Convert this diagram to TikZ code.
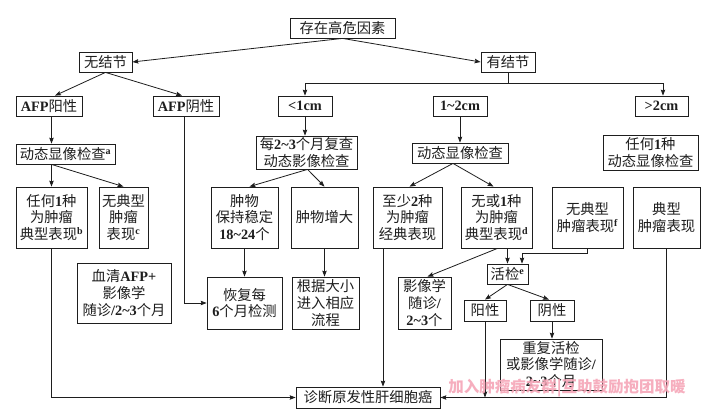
\documentclass[tikz,border=0pt]{standalone}
\usepackage{fontspec}
\setmainfont{Liberation Serif}
\newfontfamily\cjk{Noto Sans CJK SC}
\newcommand\lat[1]{{\rmfamily\bfseries #1}}
\usetikzlibrary{arrows.meta}
\definecolor{wmpink}{RGB}{246,166,184}
\definecolor{ink}{RGB}{30,30,30}
\begin{document}
\begin{tikzpicture}[x=1pt,y=-1pt,line width=0.8pt,draw=ink,
  bx/.style={draw=ink, line width=0.8pt, inner sep=0pt, align=center, text=ink,
    font=\cjk\fontsize{14.3}{16.8}\selectfont},
  arr/.style={-{Stealth[length=6pt,width=4.5pt,inset=1pt]}}]
\useasboundingbox[fill=white] (0,0) rectangle (712,415);
% nodes
\node[bx, minimum width=105pt, minimum height=20pt] (top) at (342.5,28) {存在高危因素};
\node[bx, minimum width=53pt, minimum height=20pt] (nonod) at (105.5,62) {无结节};
\node[bx, minimum width=54pt, minimum height=20pt] (hasnod) at (508,62) {有结节};
\node[bx, minimum width=66pt, minimum height=20pt] (afpp) at (49,106) {\lat{AFP}阳性};
\node[bx, minimum width=66pt, minimum height=20pt] (afpn) at (186,106) {\lat{AFP}阴性};
\node[bx, minimum width=54pt, minimum height=20pt] (lt1) at (305,106) {\lat{<1cm}};
\node[bx, minimum width=54pt, minimum height=20pt] (mid) at (460,106) {\lat{1\textasciitilde 2cm}};
\node[bx, minimum width=53pt, minimum height=20pt] (gt2) at (661.5,106) {\lat{>2cm}};
\node[bx, minimum width=99pt, minimum height=20pt] (dyn1) at (65.5,154) {动态显像检查\textsuperscript{\lat{a}}};
\node[bx, minimum width=71pt, minimum height=61pt] (typ1) at (51.5,217.5) {任何\lat{1}种\\为肿瘤\\典型表现\textsuperscript{\lat{b}}};
\node[bx, minimum width=49pt, minimum height=61pt] (atyp1) at (123.5,217.5) {无典型\\肿瘤\\表现\textsuperscript{\lat{c}}};
\node[bx, minimum width=94pt, minimum height=60pt] (serum) at (124,293) {血清\lat{AFP+}\\影像学\\随诊\lat{/2\textasciitilde 3}个月};
\node[bx, minimum width=101pt, minimum height=33pt] (rec) at (306.5,152.5) {每\lat{2\textasciitilde 3}个月复查\\动态影像检查};
\node[bx, minimum width=67pt, minimum height=61pt] (stable) at (244.5,217.5) {肿物\\保持稳定\\\lat{18\textasciitilde 24}个};
\node[bx, minimum width=67pt, minimum height=61pt] (grow) at (324.5,217.5) {肿物增大};
\node[bx, minimum width=75pt, minimum height=52pt] (resume) at (244.5,303) {恢复每\\\lat{6}个月检测};
\node[bx, minimum width=67pt, minimum height=52pt] (bysize) at (325.5,303) {根据大小\\进入相应\\流程};
\node[bx, minimum width=96pt, minimum height=20pt] (dyn2) at (460,153) {动态显像检查};
\node[bx, minimum width=69pt, minimum height=61pt] (two) at (407.5,217.5) {至少\lat{2}种\\为肿瘤\\经典表现};
\node[bx, minimum width=71pt, minimum height=61pt] (zero) at (496.5,217.5) {无或\lat{1}种\\为肿瘤\\典型表现\textsuperscript{\lat{d}}};
\node[bx, minimum width=71pt, minimum height=61pt] (atypf) at (587.5,217.5) {无典型\\肿瘤表现\textsuperscript{\lat{f}}};
\node[bx, minimum width=67pt, minimum height=61pt] (typ2) at (666.5,217.5) {典型\\肿瘤表现};
\node[bx, minimum width=95pt, minimum height=35pt] (any) at (650.5,152.5) {任何\lat{1}种\\动态显像检查};
\node[bx, minimum width=41pt, minimum height=20pt] (biopsy) at (507.5,274) {活检\textsuperscript{\lat{e}}};
\node[bx, minimum width=53pt, minimum height=52pt] (img) at (424.5,303) {影像学\\随诊\lat{/}\\\lat{2\textasciitilde 3}个};
\node[bx, minimum width=42pt, minimum height=21pt] (pos) at (485,310.5) {阳性};
\node[bx, minimum width=44pt, minimum height=21pt] (neg) at (552,310.5) {阴性};
\node[bx, minimum width=102pt, minimum height=51pt] (repeat) at (551,364.5) {重复活检\\或影像学随诊\lat{/}\\\lat{2\textasciitilde 3}个月};
\node[bx, minimum width=144pt, minimum height=21pt] (diag) at (368,397.5) {诊断原发性肝细胞癌};
% connectors
\draw[arr] (top.south) -- (nonod.east);
\draw[arr] (top.south) -- (hasnod.west);
\draw[arr] (nonod.south) -- ([xshift=6pt]afpp.north);
\draw[arr] (nonod.south) -- ([xshift=-4pt]afpn.north);
\coordinate (br) at (508,83);
\draw (hasnod.south) -- (br);
\draw[arr] (br) -| (lt1.north);
\draw[arr] (br) -| ([xshift=1.5pt]gt2.north);
\draw[arr] (afpp.south -| typ1) -- (dyn1.north -| typ1);
\draw[arr] (dyn1.south -| typ1) -- (typ1.north);
\draw[arr] (dyn1.south -| typ1) -- (atyp1.north);
\draw[arr] (typ1.south) |- (diag.west);
\coordinate (afpnb) at ([xshift=-2pt]afpn.south);
\draw[arr] (afpnb) |- (resume.west);
\draw[arr] (lt1.south) -- (lt1.south |- rec.north);
\draw[arr] ([xshift=1pt]rec.south) -- ([xshift=5pt]stable.north);
\draw[arr] ([xshift=1pt]rec.south) -- (grow.north);
\draw[arr] (stable.south) -- (resume.north);
\draw[arr] (grow.south) -- (grow.south |- bysize.north);
\draw[arr] (mid.south) -- (dyn2.north);
\draw[arr] ([xshift=-7pt]dyn2.south) -- ([xshift=2pt]two.north);
\draw[arr] ([xshift=-7pt]dyn2.south) -- ([xshift=-3pt]zero.north);
\draw[arr] (biopsy.north |- zero.south) -- (biopsy.north);
\draw[arr] (atypf.south) -- ++(0,5) -| ([xshift=14.5pt]biopsy.north);
\draw[arr] ([xshift=1pt]zero.south) -- ([xshift=3pt]img.north);
\draw[arr] (biopsy.south) -- (pos.north);
\draw[arr] (biopsy.south) -- ([xshift=-3pt]neg.north);
\draw[arr] (neg.south) -- (neg.south |- repeat.north);
\coordinate (tw) at ([xshift=-24.5pt]two.south);
\draw[arr] (tw) -- (tw |- diag.north);
\draw[arr] (typ2.south) |- (diag.east);
\draw[arr] (pos.south) -- (pos.south |- diag.east);
% watermark
\node[font=\cjk\bfseries\fontsize{15.5}{16}\selectfont, text=wmpink, opacity=0.9, inner sep=0pt] (wm) at (567,388) {加入肿瘤病友群|互助鼓励抱团取暖};
\end{tikzpicture}
\end{document}
